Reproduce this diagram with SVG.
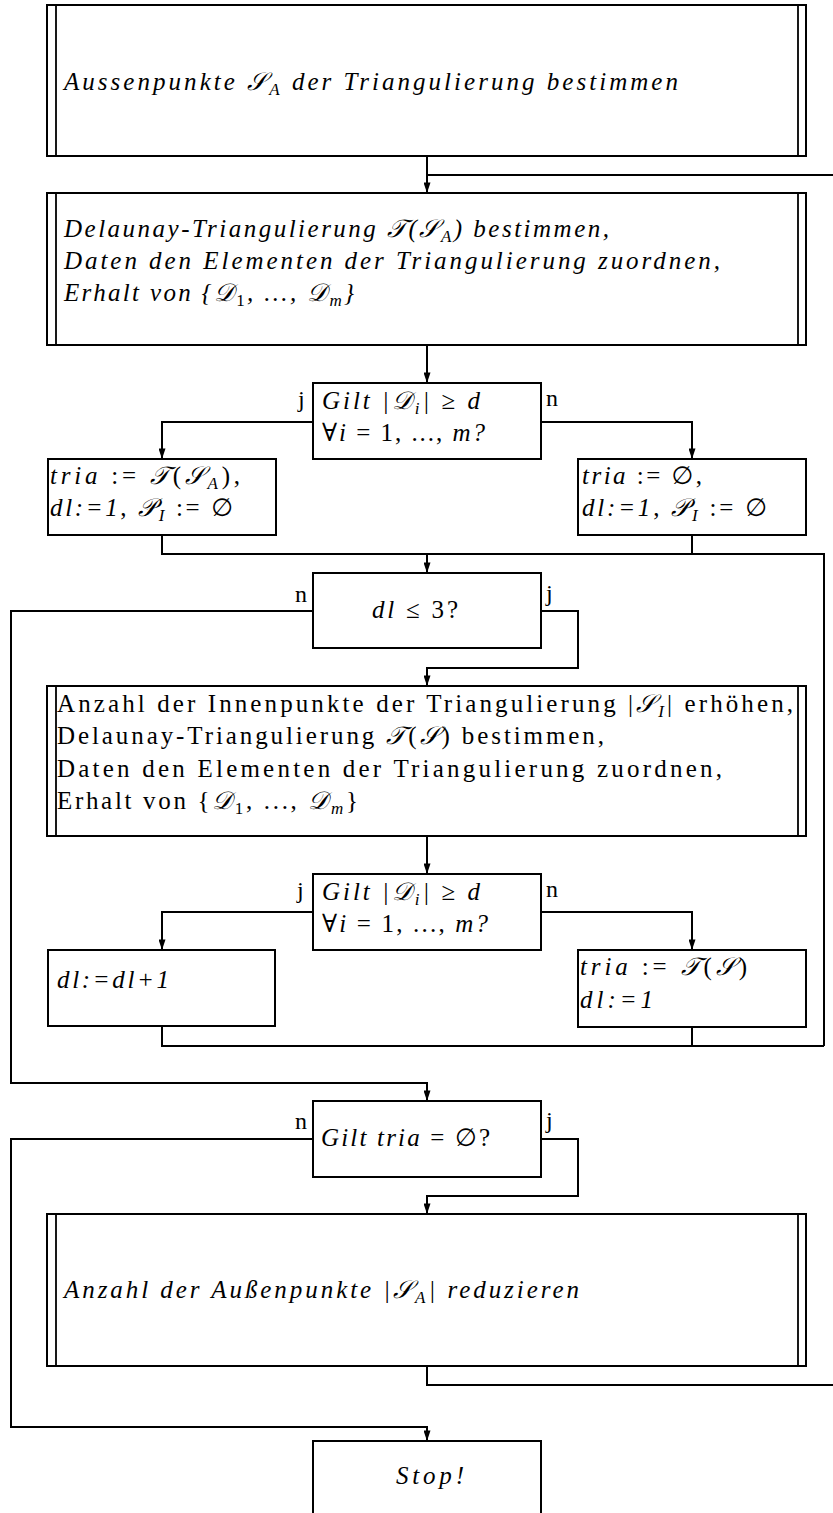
<svg xmlns="http://www.w3.org/2000/svg" width="833" height="1513" viewBox="0 0 833 1513">
<style>
.box{fill:#fff;stroke:#000;stroke-width:2}
.in{fill:none;stroke:#000;stroke-width:1.8}
.ln{fill:none;stroke:#000;stroke-width:2}
.t{font-family:"Liberation Serif","Times New Roman","DejaVu Serif","DejaVu Sans",serif;font-size:25px;font-style:italic;fill:#000}
.r{font-style:normal}
.s{font-size:17px}
.lbl{font-family:"Liberation Serif","DejaVu Serif",serif;font-size:24px;fill:#000}
</style>
<defs>
<marker id="ah" viewBox="0 0 12 8" refX="12" refY="4" markerWidth="12" markerHeight="7" markerUnits="userSpaceOnUse" orient="auto">
<path d="M0,0 L12,4 L0,8 z" fill="#000"/>
</marker>
</defs>
<rect width="833" height="1513" fill="#fff"/>
<g id="connectors">
<path class="ln" d="M427,156 V193" marker-end="url(#ah)"/>
<path class="ln" d="M427,175 H833"/>
<path class="ln" d="M427,345 V383" marker-end="url(#ah)"/>
<path class="ln" d="M313,422 H162 V459" marker-end="url(#ah)"/>
<path class="ln" d="M541,422 H692 V459" marker-end="url(#ah)"/>
<path class="ln" d="M162,535 V554 H824 V1046"/>
<path class="ln" d="M692,535 V554"/>
<path class="ln" d="M427,554 V573" marker-end="url(#ah)"/>
<path class="ln" d="M313,611 H11 V1083 H427 V1101" marker-end="url(#ah)"/>
<path class="ln" d="M541,611 H578 V668 H427 V686" marker-end="url(#ah)"/>
<path class="ln" d="M427,836 V874" marker-end="url(#ah)"/>
<path class="ln" d="M313,912 H162 V950" marker-end="url(#ah)"/>
<path class="ln" d="M541,912 H692 V950" marker-end="url(#ah)"/>
<path class="ln" d="M162,1026 V1046 H824"/>
<path class="ln" d="M692,1027 V1046"/>
<path class="ln" d="M313,1139 H11 V1427 H427 V1441" marker-end="url(#ah)"/>
<path class="ln" d="M541,1139 H578 V1196 H427 V1214" marker-end="url(#ah)"/>
<path class="ln" d="M427,1366 V1385 H833"/>
</g>
<g id="n1">
<rect class="box" x="47" y="5" width="759" height="151"/>
<path class="in" d="M56,5 V156 M798,5 V156"/>
<text class="t" x="64" y="90" textLength="614" lengthAdjust="spacing">Aussenpunkte 𝒮<tspan class="s" baseline-shift="-5">A</tspan> der Triangulierung bestimmen</text>
</g>
<g id="n2">
<rect class="box" x="47" y="193" width="759" height="152"/>
<path class="in" d="M56,193 V345 M798,193 V345"/>
<text class="t" x="64" y="237" textLength="545" lengthAdjust="spacing">Delaunay-Triangulierung 𝒯(𝒮<tspan class="s" baseline-shift="-5">A</tspan>) bestimmen,</text>
<text class="t" x="64" y="269" textLength="656" lengthAdjust="spacing">Daten den Elementen der Triangulierung zuordnen,</text>
<text class="t" x="64" y="301" textLength="290" lengthAdjust="spacing">Erhalt von {𝒟<tspan class="s r" baseline-shift="-5">1</tspan>, ..., 𝒟<tspan class="s" baseline-shift="-5">m</tspan>}</text>
</g>
<g id="d1">
<rect class="box" x="313" y="383" width="228" height="76"/>
<text class="t" x="322" y="409" textLength="158" lengthAdjust="spacing">Gilt |𝒟<tspan class="s" baseline-shift="-5">i</tspan>| <tspan class="r">≥</tspan> d</text>
<text class="t" x="322" y="441" textLength="163" lengthAdjust="spacing"><tspan class="r">∀</tspan>i <tspan class="r">= 1, ...,</tspan> m?</text>
<text class="lbl" x="298" y="407">j</text>
<text class="lbl" x="546" y="406">n</text>
</g>
<g id="a1">
<rect class="box" x="48" y="459" width="228" height="76"/>
<text class="t" x="50" y="484" textLength="190" lengthAdjust="spacing">tria <tspan class="r">:=</tspan> 𝒯<tspan class="r">(</tspan>𝒮<tspan class="s" baseline-shift="-5">A</tspan><tspan class="r">),</tspan></text>
<text class="t" x="50" y="516" textLength="183" lengthAdjust="spacing">dl:=1<tspan class="r">,</tspan> 𝒫<tspan class="s" baseline-shift="-5">I</tspan> <tspan class="r">:= ∅</tspan></text>
</g>
<g id="a2">
<rect class="box" x="578" y="459" width="228" height="76"/>
<text class="t" x="582" y="484" textLength="120" lengthAdjust="spacing">tria <tspan class="r">:= ∅,</tspan></text>
<text class="t" x="582" y="516" textLength="185" lengthAdjust="spacing">dl:=1<tspan class="r">,</tspan> 𝒫<tspan class="s" baseline-shift="-5">I</tspan> <tspan class="r">:= ∅</tspan></text>
</g>
<g id="d2">
<rect class="box" x="313" y="573" width="228" height="75"/>
<text class="t" x="372" y="618" textLength="86" lengthAdjust="spacing">dl <tspan class="r">≤ 3?</tspan></text>
<text class="lbl" x="295" y="602">n</text>
<text class="lbl" x="546" y="601">j</text>
</g>
<g id="n3">
<rect class="box" x="47" y="686" width="759" height="150"/>
<path class="in" d="M56,686 V836 M798,686 V836"/>
<text class="t r" x="57" y="712" textLength="736" lengthAdjust="spacing">Anzahl der Innenpunkte der Triangulierung |<tspan style="font-style:italic">𝒮</tspan><tspan class="s" style="font-style:italic" baseline-shift="-5">I</tspan>| erhöhen,</text>
<text class="t r" x="57" y="744" textLength="547" lengthAdjust="spacing">Delaunay-Triangulierung <tspan style="font-style:italic">𝒯</tspan>(<tspan style="font-style:italic">𝒮</tspan>) bestimmen,</text>
<text class="t r" x="57" y="777" textLength="665" lengthAdjust="spacing">Daten den Elementen der Triangulierung zuordnen,</text>
<text class="t r" x="57" y="809" textLength="301" lengthAdjust="spacing">Erhalt von {<tspan style="font-style:italic">𝒟</tspan><tspan class="s" baseline-shift="-5">1</tspan>, ..., <tspan style="font-style:italic">𝒟</tspan><tspan class="s" style="font-style:italic" baseline-shift="-5">m</tspan>}</text>
</g>
<g id="d3">
<rect class="box" x="313" y="874" width="228" height="76"/>
<text class="t" x="322" y="900" textLength="158" lengthAdjust="spacing">Gilt |𝒟<tspan class="s" baseline-shift="-5">i</tspan>| <tspan class="r">≥</tspan> d</text>
<text class="t" x="322" y="932" textLength="166" lengthAdjust="spacing"><tspan class="r">∀</tspan>i <tspan class="r">= 1, ...,</tspan> m?</text>
<text class="lbl" x="297" y="898">j</text>
<text class="lbl" x="546" y="897">n</text>
</g>
<g id="a3">
<rect class="box" x="48" y="950" width="227" height="76"/>
<text class="t" x="57" y="988" textLength="112" lengthAdjust="spacing">dl:=dl+1</text>
</g>
<g id="a4">
<rect class="box" x="578" y="950" width="228" height="77"/>
<text class="t" x="580" y="975" textLength="167" lengthAdjust="spacing">tria <tspan class="r">:=</tspan> 𝒯<tspan class="r">(</tspan>𝒮<tspan class="r">)</tspan></text>
<text class="t" x="580" y="1008" textLength="73" lengthAdjust="spacing">dl:=1</text>
</g>
<g id="d4">
<rect class="box" x="313" y="1101" width="228" height="76"/>
<text class="t" x="321" y="1146" textLength="169" lengthAdjust="spacing">Gilt tria <tspan class="r">= ∅?</tspan></text>
<text class="lbl" x="295" y="1129">n</text>
<text class="lbl" x="546" y="1128">j</text>
</g>
<g id="n5">
<rect class="box" x="47" y="1214" width="759" height="152"/>
<path class="in" d="M56,1214 V1366 M798,1214 V1366"/>
<text class="t" x="64" y="1298" textLength="515" lengthAdjust="spacing">Anzahl der Außenpunkte |𝒮<tspan class="s" baseline-shift="-5">A</tspan>| reduzieren</text>
</g>
<g id="stop">
<path class="box" d="M313,1513 V1441 H541 V1513"/>
<text class="t" x="396" y="1484" textLength="68" lengthAdjust="spacing">Stop!</text>
</g>
</svg>
